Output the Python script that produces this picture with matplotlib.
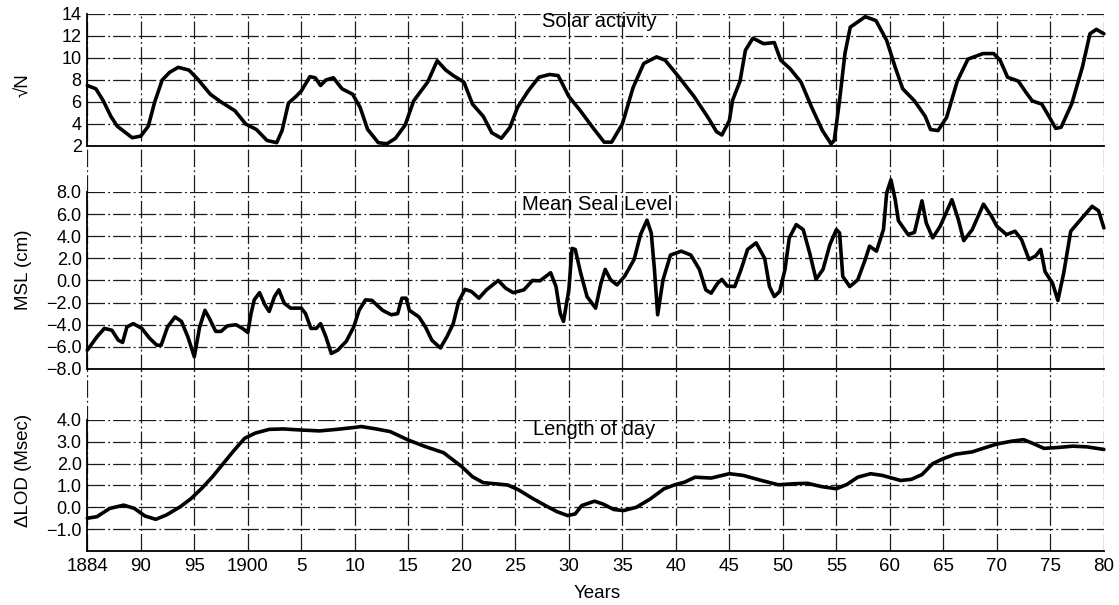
import matplotlib.pyplot as plt
import numpy as np

plt.rcParams['font.family'] = ['Liberation Sans', 'DejaVu Sans']

# year ticks (first tick printed as 1884 in the original figure)
tick_years = [1885, 1890, 1895, 1900, 1905, 1910, 1915, 1920, 1925, 1930,
              1935, 1940, 1945, 1950, 1955, 1960, 1965, 1970, 1975, 1980]
tick_names = ["1884", "90", "95", "1900", "5", "10", "15", "20", "25", "30",
              "35", "40", "45", "50", "55", "60", "65", "70", "75", "80"]

# solar activity (sqrt N)
solar_years = [1885, 1885.8, 1886.5, 1887.2, 1887.8, 1889.2, 1890, 1890.7, 1891.3, 1892,
               1892.7, 1893.5, 1894.5, 1895.3, 1896.5, 1897.5, 1898.8, 1899.8, 1900.8, 1901.8,
               1902.7, 1903.2, 1903.8, 1904.5, 1905, 1905.8, 1906.3, 1906.8, 1907.3, 1908,
               1908.8, 1909.8, 1910.5, 1911.2, 1912.2, 1913, 1913.8, 1914.7, 1915.5, 1916.8,
               1917.7, 1918.5, 1919.2, 1920.2, 1921, 1922, 1922.8, 1923.7, 1924.5, 1925.2,
               1926.2, 1927.2, 1928.2, 1929, 1930, 1931, 1932.3, 1933.3, 1934, 1935,
               1936, 1937, 1938.2, 1939, 1940.3, 1941.7, 1943, 1943.8, 1944.3, 1945,
               1945.3, 1946, 1946.5, 1947.2, 1948.2, 1949.2, 1949.8, 1950.7, 1951.7, 1952.7,
               1953.7, 1954.5, 1954.8, 1955.3, 1955.8, 1956.3, 1957.7, 1958.7, 1959.7, 1960.5,
               1961.2, 1962.3, 1963.3, 1963.8, 1964.5, 1965.3, 1966.3, 1967.3, 1968.7, 1969.7,
               1970.3, 1971, 1972, 1972.7, 1973.3, 1974.2, 1974.8, 1975.5, 1976, 1977,
               1978, 1978.7, 1979.3, 1980]
solar_vals = [7.5, 7.2, 6.1, 4.7, 3.8, 2.75, 2.9, 3.8, 6.0, 8.0,
              8.7, 9.15, 8.9, 8.1, 6.7, 6.0, 5.2, 4.0, 3.5, 2.5,
              2.3, 3.4, 5.9, 6.5, 7.0, 8.3, 8.2, 7.5, 8.0, 8.2,
              7.2, 6.7, 5.5, 3.5, 2.3, 2.2, 2.7, 3.9, 6.1, 7.8,
              9.75, 8.9, 8.4, 7.8, 5.8, 4.7, 3.2, 2.7, 3.7, 5.5,
              7.0, 8.25, 8.5, 8.4, 6.5, 5.3, 3.6, 2.35, 2.35, 4.0,
              7.3, 9.5, 10.1, 9.8, 8.25, 6.5, 4.6, 3.3, 3.0, 4.3,
              6.15, 7.9, 10.7, 11.8, 11.3, 11.4, 9.8, 9.0, 7.8, 5.5,
              3.4, 2.2, 2.5, 6.15, 10.4, 12.8, 13.75, 13.4, 11.6, 9.15,
              7.2, 6.1, 4.7, 3.5, 3.4, 4.6, 7.9, 9.9, 10.4, 10.4,
              9.8, 8.25, 7.9, 6.9, 6.1, 5.8, 4.8, 3.6, 3.7, 5.85,
              9.2, 12.2, 12.6, 12.2]

# mean sea level (cm)
msl_years = [1885, 1885.9, 1886.6, 1887.3, 1887.9, 1888.3, 1888.7, 1889.3, 1890.1, 1890.8,
             1891.5, 1891.9, 1892.5, 1893.2, 1893.8, 1894.4, 1895, 1895.5, 1896, 1896.4,
             1897, 1897.5, 1898.1, 1898.9, 1899.5, 1900, 1900.3, 1900.6, 1901.1, 1901.6,
             1902, 1902.5, 1902.9, 1903.4, 1904, 1905, 1905.4, 1905.9, 1906.4, 1906.8,
             1907.3, 1907.8, 1908.4, 1909.2, 1909.9, 1910.4, 1911, 1911.6, 1912.6, 1913.4,
             1914, 1914.4, 1914.8, 1915.1, 1916, 1916.6, 1917.2, 1918, 1918.6, 1919.2,
             1919.7, 1920.3, 1920.9, 1921.6, 1922.3, 1923.4, 1924.1, 1924.8, 1925.8, 1926.6,
             1927.3, 1928.3, 1928.8, 1929.2, 1929.5, 1930, 1930.3, 1930.6, 1931.1, 1931.7,
             1932.5, 1933, 1933.4, 1933.9, 1934.5, 1935.2, 1936.1, 1936.7, 1937.3, 1937.7,
             1938, 1938.3, 1938.8, 1939.5, 1940.5, 1941.4, 1942.2, 1942.8, 1943.3, 1943.9,
             1944.3, 1944.8, 1945.5, 1946.1, 1946.7, 1947.5, 1948.3, 1948.75, 1949.2, 1949.7,
             1950.2, 1950.6, 1951.25, 1951.9, 1952.5, 1953.1, 1953.75, 1954.4, 1955, 1955.3,
             1955.6, 1956.25, 1957, 1957.7, 1958.1, 1958.75, 1959.4, 1959.7, 1960.1, 1960.5,
             1960.8, 1961.7, 1962.3, 1963, 1963.4, 1964, 1964.7, 1965.8, 1966.4, 1966.9,
             1967.7, 1968.75, 1969.5, 1970, 1970.9, 1971.7, 1972.3, 1973, 1973.6, 1974.1,
             1974.5, 1975.2, 1975.7, 1976.25, 1976.9, 1978, 1978.9, 1979.5, 1980]
msl_vals = [-6.3, -5.1, -4.33, -4.5, -5.4, -5.6, -4.2, -3.9, -4.33, -5.2,
            -5.85, -5.85, -4.2, -3.3, -3.7, -5.1, -6.9, -4.2, -2.7, -3.4,
            -4.6, -4.6, -4.1, -4.0, -4.33, -4.7, -3.0, -1.75, -1.1, -2.2,
            -2.8, -1.45, -0.85, -2.05, -2.5, -2.5, -3.0, -4.33, -4.33, -3.9,
            -5.1, -6.6, -6.3, -5.5, -4.2, -2.7, -1.75, -1.8, -2.7, -3.1,
            -3.0, -1.6, -1.6, -2.7, -3.3, -4.2, -5.4, -6.1, -5.1, -3.9,
            -1.9, -0.8, -1.0, -1.6, -0.85, 0.0, -0.7, -1.1, -0.85, 0.0,
            -0.03, 0.7, -0.55, -3.0, -3.7, -0.85, 2.9, 2.8, 0.7, -1.45,
            -2.5, -0.25, 1.0, 0.06, -0.4, 0.36, 1.9, 4.15, 5.45, 4.3,
            1.0, -3.1, 0.06, 2.3, 2.65, 2.3, 1.0, -0.85, -1.15, -0.25,
            0.1, -0.5, -0.55, 1.0, 2.8, 3.4, 2.0, -0.55, -1.45, -1.0,
            1.0, 3.85, 5.05, 4.6, 2.5, 0.1, 1.0, 3.25, 4.6, 4.3,
            0.36, -0.55, 0.06, 1.9, 3.1, 2.65, 4.6, 7.9, 9.1, 7.3,
            5.4, 4.15, 4.35, 7.2, 5.2, 3.85, 4.9, 7.3, 5.5, 3.6,
            4.6, 6.9, 5.8, 4.9, 4.15, 4.45, 3.7, 1.9, 2.2, 2.8,
            0.8, -0.25, -1.8, 0.7, 4.45, 5.7, 6.7, 6.3, 4.75]

# change of length of day (msec)
lod_years = [1885, 1885.9, 1887.1, 1888.4, 1889.4, 1890.4, 1891.4, 1892.4, 1893.7, 1894.7,
             1895.7, 1896.7, 1897.7, 1898.7, 1899.7, 1900.7, 1902, 1903.3, 1905, 1906.7,
             1908.3, 1910, 1910.6, 1912, 1913.3, 1915, 1916.6, 1918.3, 1920, 1921,
             1922, 1923.3, 1924.3, 1925.3, 1926.6, 1928, 1928.9, 1929.9, 1930.6, 1931.2,
             1932.4, 1933.2, 1934.2, 1935.1, 1936.3, 1937.6, 1938.9, 1939.9, 1940.8, 1941.8,
             1943.3, 1945, 1946.3, 1948, 1949.6, 1951, 1952.3, 1953.6, 1955, 1956,
             1957, 1958.2, 1959.3, 1961, 1962, 1963, 1964, 1965, 1966.1, 1967.7,
             1968.7, 1970, 1971.4, 1972.5, 1973.4, 1974.4, 1975.7, 1977.1, 1978.4, 1980]
lod_vals = [-0.5, -0.43, -0.05, 0.1, -0.05, -0.4, -0.55, -0.35, 0.03, 0.4,
            0.87, 1.4, 2.0, 2.6, 3.16, 3.4, 3.57, 3.59, 3.54, 3.5,
            3.57, 3.66, 3.7, 3.59, 3.47, 3.08, 2.78, 2.5, 1.86, 1.4,
            1.13, 1.07, 1.02, 0.8, 0.41, 0.03, -0.2, -0.38, -0.3, 0.08,
            0.28, 0.15, -0.1, -0.15, 0.0, 0.38, 0.85, 1.03, 1.15, 1.38,
            1.34, 1.54, 1.46, 1.23, 1.03, 1.08, 1.1, 0.95, 0.85, 1.05,
            1.38, 1.54, 1.46, 1.23, 1.28, 1.5, 2.0, 2.23, 2.43, 2.54,
            2.7, 2.9, 3.03, 3.1, 2.92, 2.7, 2.74, 2.8, 2.77, 2.65]

solar_ticks = [2, 4, 6, 8, 10, 12, 14]
msl_ticks = [-8, -6, -4, -2, 0, 2, 4, 6, 8]
lod_ticks = [-1, 0, 1, 2, 3, 4]

GRID = dict(color='#1a1a1a', linewidth=0.9, linestyle=(0, (14, 2.5, 1.5, 2.5)))


def fmt(v):
    return f"{v:.1f}".replace('-', '\u2212')


def setup_panel(ax, ylim, yticks, ylabels):
    ax.set_xlim(1885, 1980)
    ax.set_ylim(*ylim)
    ax.set_yticks(yticks)
    ax.set_yticklabels(ylabels)
    ax.set_xticks(tick_years)
    ax.set_facecolor('none')
    ax.yaxis.grid(True, **GRID)
    ax.xaxis.grid(False)
    for s in ['top', 'right']:
        ax.spines[s].set_visible(False)
    for s in ['left', 'bottom']:
        ax.spines[s].set_linewidth(1.3)
    ax.tick_params(length=0, labelsize=13, pad=4)


fig = plt.figure(figsize=(11.19, 6.05), dpi=100)
L, W = 0.078, 0.9085

# background axes carries the vertical grid through the gaps between panels
bg = fig.add_axes([L, 0.0893, W, 0.8876])
bg.set_xlim(1885, 1980)
bg.set_xticks(tick_years)
bg.set_yticks([])
bg.xaxis.grid(True, **GRID)
bg.tick_params(length=0, labelbottom=False)
for s in bg.spines.values():
    s.set_visible(False)

ax1 = fig.add_axes([L, 0.7587, W, 0.2182])
ax2 = fig.add_axes([L, 0.3901, W, 0.2926])
ax3 = fig.add_axes([L, 0.0893, W, 0.2165])

setup_panel(ax1, (2, 14), solar_ticks, [str(v) for v in solar_ticks])
setup_panel(ax2, (-8, 8), msl_ticks, [fmt(v) for v in msl_ticks])
setup_panel(ax3, (-2, 4), lod_ticks, [fmt(v) for v in lod_ticks])

ax1.tick_params(labelbottom=False)
ax2.tick_params(labelbottom=False)
ax3.set_xticklabels(tick_names)
ax3.tick_params(axis='x', labelsize=13.5, pad=5)

line_kw = dict(color='black', linewidth=2.6, solid_joinstyle='round',
               solid_capstyle='round', clip_on=False)
ax1.plot(solar_years, solar_vals, **line_kw)
ax2.plot(msl_years, msl_vals, **line_kw)
ax3.plot(lod_years, lod_vals, **line_kw)

ax1.text(0.504, 0.94, "Solar activity", transform=ax1.transAxes,
         ha='center', va='center', fontsize=14.5)
ax2.text(0.502, 0.927, "Mean Seal Level", transform=ax2.transAxes,
         ha='center', va='center', fontsize=14.5)
ax3.text(0.499, 0.924, "Length of day", transform=ax3.transAxes,
         ha='center', va='center', fontsize=14.5)

fig.text(0.021, 1 - 85 / 605, "\u221aN", rotation=90, ha='center', va='center', fontsize=13.5)
fig.text(0.021, 1 - 270 / 605, "MSL (cm)", rotation=90, ha='center', va='center', fontsize=13.5)
fig.text(0.021, 1 - 470 / 605, "\u0394LOD (Msec)", rotation=90, ha='center', va='center', fontsize=13.5)
fig.text(597 / 1119, 1 - 593 / 605, "Years", ha='center', va='center', fontsize=13.5)

fig.savefig("out.png", dpi=100)
